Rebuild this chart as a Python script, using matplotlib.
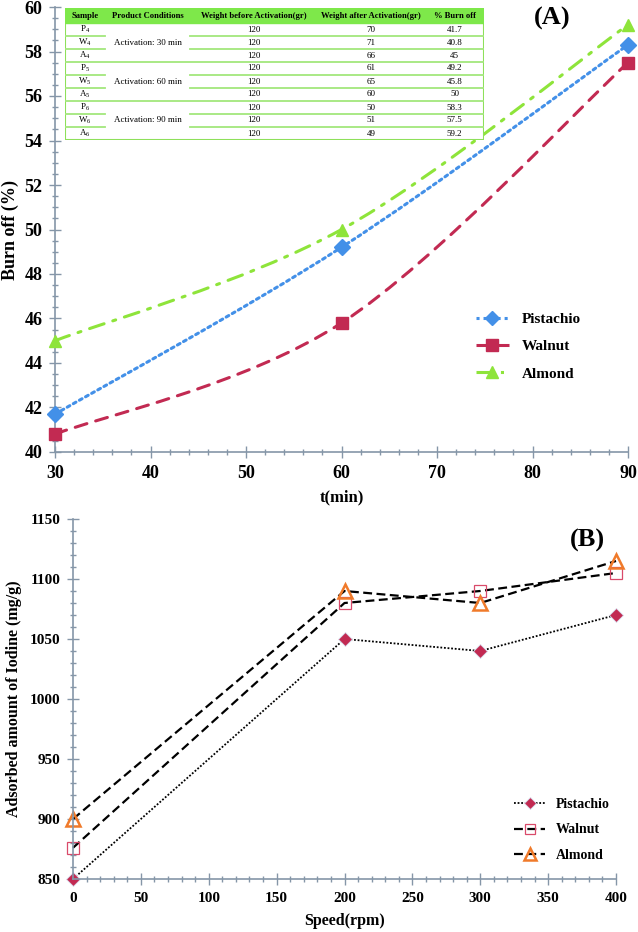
#!/usr/bin/env python

import matplotlib
matplotlib.use("Agg")
import matplotlib.pyplot as plt
from matplotlib.lines import Line2D
from matplotlib.patches import PathPatch, Rectangle
from matplotlib.path import Path
from matplotlib.ticker import MultipleLocator

plt.rcParams["font.family"] = ["Liberation Serif", "DejaVu Serif"]
plt.rcParams["mathtext.fontset"] = "custom"
plt.rcParams["mathtext.rm"] = "Liberation Serif"

# panel A: burn off vs activation time
time_min = [30, 60, 90]
burn_pistachio = [41.7, 49.2, 58.3]
burn_walnut = [40.8, 45.8, 57.5]
burn_almond = [45.0, 50.0, 59.2]

# table inside panel A
table_header = ["Sample", "Product Conditions", "Weight before Activation(gr)",
                "Weight after Activation(gr)", "% Burn off"]
table_samples = ["P$_4$", "W$_4$", "A$_4$", "P$_5$", "W$_5$", "A$_5$",
                 "P$_6$", "W$_6$", "A$_6$"]
table_conditions = ["Activation: 30 min", "Activation: 60 min", "Activation: 90 min"]
table_before = [120, 120, 120, 120, 120, 120, 120, 120, 120]
table_after = [70, 71, 66, 61, 65, 60, 50, 51, 49]
table_burn = ["41.7", "40.8", "45", "49.2", "45.8", "50", "58.3", "57.5", "59.2"]

# panel B: iodine adsorption vs speed
speed_rpm = [0, 200, 300, 400]
iodine_pistachio = [850, 1050, 1040, 1070]
iodine_walnut = [876, 1080, 1090, 1105]
iodine_almond = [900, 1090, 1080, 1115]

BLUE = "#4390e8"
CRIMSON = "#c22a52"
GREEN = "#8ee43a"
ORANGE = "#f07a2a"
SPINE = "#8596a8"


def smooth_path(x, y):
    # Excel-like smoothed line as cubic bezier through the data points
    pts = list(zip(x, y))
    n = len(pts)
    verts = [pts[0]]
    codes = [Path.MOVETO]
    for i in range(n - 1):
        p0 = pts[max(i - 1, 0)]
        p1 = pts[i]
        p2 = pts[i + 1]
        p3 = pts[min(i + 2, n - 1)]
        c1 = (p1[0] + (p2[0] - p0[0]) / 6, p1[1] + (p2[1] - p0[1]) / 6)
        c2 = (p2[0] - (p3[0] - p1[0]) / 6, p2[1] - (p3[1] - p1[1]) / 6)
        verts += [c1, c2, p2]
        codes += [Path.CURVE4] * 3
    return Path(verts, codes)


def style_axes(ax):
    for s in ["top", "right"]:
        ax.spines[s].set_visible(False)
    for s in ["left", "bottom"]:
        ax.spines[s].set_color(SPINE)
        ax.spines[s].set_linewidth(1.2)
    ax.tick_params(which="both", direction="inout", color=SPINE, width=1, pad=5)
    ax.tick_params(which="major", length=8)
    ax.tick_params(which="minor", length=5)
    for lab in ax.get_xticklabels() + ax.get_yticklabels():
        lab.set_fontweight("bold")


def main():
    fig = plt.figure(figsize=(6.38, 9.32), dpi=100)

    # ---------------- panel A ----------------
    ax = fig.add_axes([55 / 638, 1 - 452 / 932, 573 / 638, 445 / 932])
    series_a = [
        ("Pistachio", burn_pistachio, BLUE, (0, (1, 1.3)), "D", 8),
        ("Walnut", burn_walnut, CRIMSON, (0, (4, 3)), "s", 9),
        ("Almond", burn_almond, GREEN, (0, (5, 3, 1, 3)), "^", 9),
    ]
    handles = []
    for name, vals, col, ls, mk, ms in series_a:
        patch = PathPatch(smooth_path(time_min, vals), fill=False, edgecolor=col,
                          linewidth=2.2, linestyle=ls, capstyle="round", zorder=2)
        ax.add_patch(patch)
        ax.plot(time_min, vals, linestyle="none", marker=mk, markersize=ms,
                color=col, clip_on=False, zorder=3)
        handles.append(Line2D([], [], color=col, linestyle=ls, linewidth=2.2,
                              marker=mk, markersize=ms - 1, label=name))
    ax.set_xlim(30, 90)
    ax.set_ylim(40, 60)
    ax.xaxis.set_major_locator(MultipleLocator(10))
    ax.xaxis.set_minor_locator(MultipleLocator(2))
    ax.yaxis.set_major_locator(MultipleLocator(2))
    ax.yaxis.set_minor_locator(MultipleLocator(0.5))
    ax.tick_params(labelsize=13)
    ax.set_xlabel("t(min)", fontsize=12, fontweight="bold", labelpad=6)
    ax.set_ylabel("Burn off (%)", fontsize=13, fontweight="bold", labelpad=4)
    style_axes(ax)
    ax.legend(handles=handles, loc="upper left", bbox_to_anchor=(0.71, 0.345),
              frameon=False, handlelength=2.2, labelspacing=0.9,
              prop={"weight": "bold", "size": 11})
    ax.text(0.867, 0.975, "(A)", transform=ax.transAxes, ha="center", va="center",
            fontsize=19, fontweight="bold")

    # table inset (pixel-like coordinates inside the inset)
    tb = fig.add_axes([65 / 638, 1 - 140 / 932, 419 / 638, 132 / 932])
    tb.set_xlim(0, 419)
    tb.set_ylim(132, 0)
    tb.axis("off")
    tb.add_patch(Rectangle((0, 0), 419, 132, facecolor="white",
                           edgecolor="#8ee05a", linewidth=1.5))
    tb.add_patch(Rectangle((0, 0), 419, 15, facecolor="#7ee84a",
                           edgecolor="#7ee84a", linewidth=1))
    col_edges = [0, 40, 125, 253, 360, 419]
    col_centers = [(col_edges[i] + col_edges[i + 1]) / 2 for i in range(5)]
    col_centers[3] = 306
    for c, h in zip(col_centers, table_header):
        tb.text(c, 7.5, h, ha="center", va="center", fontsize=6.2,
                fontweight="bold")
    line_col = "#a3e77c"
    for i in range(1, 9):
        yy = 15 + 13 * i
        if i % 3 == 0:
            tb.plot([0, 419], [yy, yy], color=line_col, lw=1.3)
        else:
            tb.plot([0, 40], [yy, yy], color=line_col, lw=1.3)
            tb.plot([125, 419], [yy, yy], color=line_col, lw=1.3)
    for i in range(9):
        yc = 15 + 13 * i + 6.5
        tb.text(col_centers[0], yc, table_samples[i], ha="center", va="center",
                fontsize=6.5)
        tb.text(col_centers[2], yc, str(table_before[i]), ha="center",
                va="center", fontsize=6.5)
        tb.text(col_centers[3], yc, str(table_after[i]), ha="center",
                va="center", fontsize=6.5)
        tb.text(col_centers[4], yc, table_burn[i], ha="center", va="center",
                fontsize=6.5)
    for g, cond in enumerate(table_conditions):
        tb.text(col_centers[1], 15 + 13 * (3 * g + 1) + 6.5, cond, ha="center",
                va="center", fontsize=6.5)

    # ---------------- panel B ----------------
    bx = fig.add_axes([73 / 638, 1 - 879 / 932, 543 / 638, 360 / 932])
    bx.plot(speed_rpm, iodine_pistachio, color="black", linestyle=(0, (1, 1)),
            linewidth=1.3, marker="D", markersize=7.5, markerfacecolor=CRIMSON,
            markeredgecolor="#d8e0f0", markeredgewidth=0.6, clip_on=False,
            label="Pistachio")
    bx.plot(speed_rpm, iodine_walnut, color="black", linestyle=(0, (4, 2)),
            linewidth=1.6, marker="s", markersize=9, markerfacecolor="none",
            markeredgecolor="#d94a6a", markeredgewidth=0.9, clip_on=False,
            label="Walnut")
    bx.plot(speed_rpm, iodine_almond, color="black", linestyle=(0, (4, 2)),
            linewidth=1.6, marker="^", markersize=10, markerfacecolor="none",
            markeredgecolor=ORANGE, markeredgewidth=1.8, clip_on=False,
            label="Almond")
    bx.set_xlim(0, 400)
    bx.set_ylim(850, 1150)
    bx.xaxis.set_major_locator(MultipleLocator(50))
    bx.xaxis.set_minor_locator(MultipleLocator(10))
    bx.yaxis.set_major_locator(MultipleLocator(50))
    bx.yaxis.set_minor_locator(MultipleLocator(10))
    bx.tick_params(labelsize=11)
    bx.set_xlabel("Speed(rpm)", fontsize=11.5, fontweight="bold", labelpad=6)
    bx.set_ylabel("Adsorbed amount of Iodine (mg/g)", fontsize=11.5,
                  fontweight="bold", labelpad=6)
    style_axes(bx)
    bx.legend(loc="upper left", bbox_to_anchor=(0.79, 0.26), frameon=False,
              handlelength=2.2, labelspacing=0.9, markerscale=0.8,
              prop={"weight": "bold", "size": 10})
    bx.text(0.948, 0.94, "(B)", transform=bx.transAxes, ha="center",
            va="center", fontsize=19, fontweight="bold")

    fig.savefig("out.png", dpi=100)


if __name__ == "__main__":
    main()
